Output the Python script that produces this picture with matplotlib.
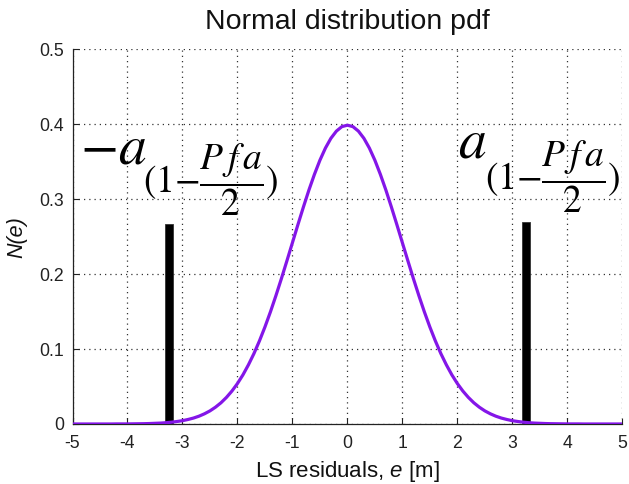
import matplotlib
matplotlib.use("Agg")
import matplotlib.pyplot as plt

plt.rcParams["font.family"] = ["Liberation Sans", "DejaVu Sans"]
plt.rcParams["mathtext.fontset"] = "stix"
# sans italic used for the variable in the axis labels
plt.rcParams["mathtext.it"] = "Liberation Sans:italic"
plt.rcParams["mathtext.rm"] = "Liberation Sans"

# Residual grid and standard normal density values
residuals = [-5.0, -4.9, -4.8, -4.7, -4.6, -4.5, -4.4, -4.3, -4.2, -4.1,
             -4.0, -3.9, -3.8, -3.7, -3.6, -3.5, -3.4, -3.3, -3.2, -3.1,
             -3.0, -2.9, -2.8, -2.7, -2.6, -2.5, -2.4, -2.3, -2.2, -2.1,
             -2.0, -1.9, -1.8, -1.7, -1.6, -1.5, -1.4, -1.3, -1.2, -1.1,
             -1.0, -0.9, -0.8, -0.7, -0.6, -0.5, -0.4, -0.3, -0.2, -0.1,
             0.0, 0.1, 0.2, 0.3, 0.4, 0.5, 0.6, 0.7, 0.8, 0.9,
             1.0, 1.1, 1.2, 1.3, 1.4, 1.5, 1.6, 1.7, 1.8, 1.9,
             2.0, 2.1, 2.2, 2.3, 2.4, 2.5, 2.6, 2.7, 2.8, 2.9,
             3.0, 3.1, 3.2, 3.3, 3.4, 3.5, 3.6, 3.7, 3.8, 3.9,
             4.0, 4.1, 4.2, 4.3, 4.4, 4.5, 4.6, 4.7, 4.8, 4.9, 5.0]
density = [0.0000, 0.0000, 0.0000, 0.0000, 0.0000, 0.0000, 0.0000, 0.0000, 0.0001, 0.0001,
           0.0001, 0.0002, 0.0003, 0.0004, 0.0006, 0.0009, 0.0012, 0.0017, 0.0024, 0.0033,
           0.0044, 0.0060, 0.0079, 0.0104, 0.0136, 0.0175, 0.0224, 0.0283, 0.0355, 0.0440,
           0.0540, 0.0656, 0.0790, 0.0940, 0.1109, 0.1295, 0.1497, 0.1714, 0.1942, 0.2179,
           0.2420, 0.2661, 0.2897, 0.3123, 0.3332, 0.3521, 0.3683, 0.3814, 0.3910, 0.3970,
           0.3989, 0.3970, 0.3910, 0.3814, 0.3683, 0.3521, 0.3332, 0.3123, 0.2897, 0.2661,
           0.2420, 0.2179, 0.1942, 0.1714, 0.1497, 0.1295, 0.1109, 0.0940, 0.0790, 0.0656,
           0.0540, 0.0440, 0.0355, 0.0283, 0.0224, 0.0175, 0.0136, 0.0104, 0.0079, 0.0060,
           0.0044, 0.0033, 0.0024, 0.0017, 0.0012, 0.0009, 0.0006, 0.0004, 0.0003, 0.0002,
           0.0001, 0.0001, 0.0001, 0.0000, 0.0000, 0.0000, 0.0000, 0.0000, 0.0000, 0.0000, 0.0000]

# Detection thresholds (+/- a) and marker heights
threshold_x = [-3.25, 3.25]
threshold_h = [0.267, 0.269]

x_ticks = [-5, -4, -3, -2, -1, 0, 1, 2, 3, 4, 5]
y_ticks = [0, 0.1, 0.2, 0.3, 0.4, 0.5]
y_tick_labels = ["0", "0.1", "0.2", "0.3", "0.4", "0.5"]

fig = plt.figure(figsize=(6.29, 4.84), dpi=100)
ax = fig.add_axes([0.1153, 0.124, 0.874, 0.7738])

ax.bar(threshold_x, threshold_h, width=0.15, color="black",
       edgecolor="#333333", linewidth=0.6, zorder=2)
ax.plot(residuals, density, color="#8416e8", linewidth=2.3, zorder=3,
        solid_capstyle="butt", solid_joinstyle="round")

ax.set_xlim(-5, 5)
ax.set_ylim(0, 0.5)
ax.set_xticks(x_ticks)
ax.set_xticklabels([str(v) for v in x_ticks])
ax.set_yticks(y_ticks)
ax.set_yticklabels(y_tick_labels)

ax.grid(True, linestyle=(0, (1, 3.2)), color="#333333", linewidth=0.9, zorder=0)
ax.set_axisbelow(True)

for side in ("top", "right"):
    ax.spines[side].set_visible(False)
for side in ("left", "bottom"):
    ax.spines[side].set_linewidth(0.9)
    ax.spines[side].set_color("#222222")

ax.tick_params(direction="in", length=4, width=0.8, labelsize=12.7,
               colors="#222222", pad=6)
ax.tick_params(axis="x", pad=8)

ax.set_title("Normal distribution pdf", fontsize=20.5, pad=15, color="#111111")
ax.set_xlabel(r"LS residuals, $e$ [m]", fontsize=16, labelpad=5,
              color="#111111", math_fontfamily="custom")
ax.set_ylabel("N(e)", fontsize=15.5, fontstyle="italic", labelpad=9,
              color="#111111")

# Threshold annotations
sub = r"$(1{-}\dfrac{P\,f\,a}{2})$"
ax.text(-4.87, 0.3484, r"$-a$", fontsize=40, ha="left", va="baseline")
ax.text(-3.715, 0.3257, sub, fontsize=27, ha="left", va="center")
ax.text(2.013, 0.3557, r"$a$", fontsize=40, ha="left", va="baseline")
ax.text(2.50, 0.3297, sub, fontsize=27, ha="left", va="center")

fig.savefig("out.png", dpi=100)
